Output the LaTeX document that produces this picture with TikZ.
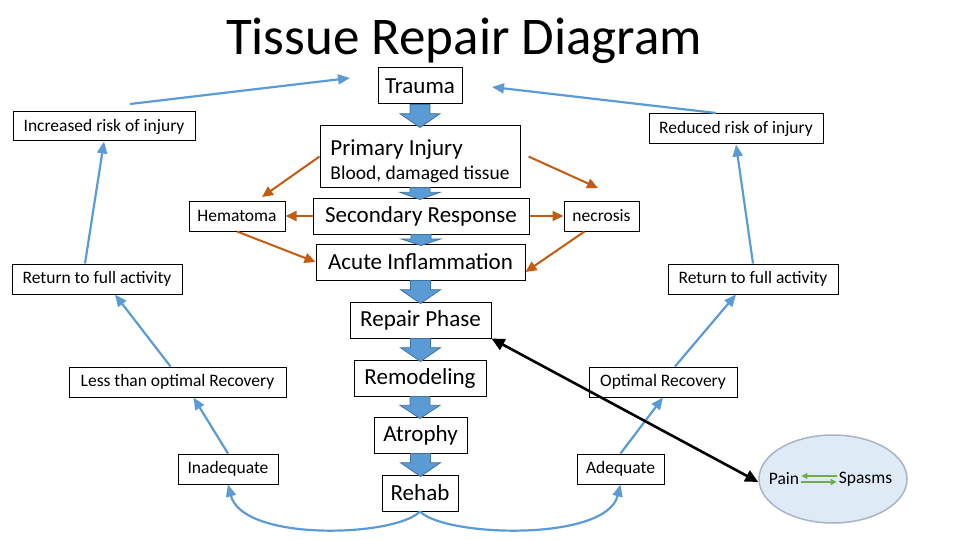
\documentclass[tikz,border=0pt]{standalone}
\usepackage{fontspec}
\setmainfont{Carlito}
\usepackage{tikz,xcolor}
\usetikzlibrary{arrows.meta,calc,shapes.geometric}

\definecolor{lineblue}{RGB}{91,155,213}
\definecolor{fatedge}{RGB}{65,113,156}
\definecolor{rust}{RGB}{197,90,17}
\definecolor{leafgreen}{RGB}{112,173,71}
\definecolor{ellfill}{RGB}{222,235,247}
\definecolor{ellgray}{RGB}{170,180,196}

\tikzset{
  mainbox/.style={draw, line width=1pt, fill=white, inner sep=0, minimum height=36, font=\fontsize{23}{26}\selectfont},
  sidebox/.style={draw, line width=1pt, fill=white, inner sep=0, minimum height=30, font=\fontsize{17.5}{20}\selectfont},
  bluearr/.style={draw=lineblue, line width=2.2pt, -{Triangle[length=12pt,width=10pt]}},
  rustarr/.style={draw=rust, line width=2pt, -{Triangle[length=11pt,width=10pt]}},
  blackarr/.style={draw=black, line width=2.6pt, {Triangle[length=13pt,width=12pt]}-{Triangle[length=13pt,width=12pt]}},
  greenarr/.style={draw=leafgreen, line width=2pt, -{Triangle[length=6pt,width=6pt]}},
  fatarrow/.style={fill=lineblue, draw=fatedge, line width=0.8pt}
}

% 粗箭头
\newcommand{\fatarr}[2]{%
  \draw[fatarrow] let \p1=(#1.south), \p2=(#2.north), \n1={min(14, 0.6*(\y1-\y2+2pt))} in
    (\x1-10pt,\y1) -- (\x1-10pt,\y2-2pt+\n1) -- (\x1-20pt,\y2-2pt+\n1) -- (\x1,\y2-2pt)
    -- (\x1+20pt,\y2-2pt+\n1) -- (\x1+10pt,\y2-2pt+\n1) -- (\x1+10pt,\y1) -- cycle;}

\begin{document}
\begin{tikzpicture}[x=1pt, y=-1pt]
\useasboundingbox (0,0) rectangle (960,540);

% 标题
\node[anchor=base] (title) at (464,55) {\fontsize{53}{60}\selectfont Tissue Repair Diagram};

% 中间节点
\node[mainbox, minimum width=84] (trauma) at (420,86) {Trauma};
\node[draw, line width=1pt, fill=white, inner sep=0, minimum width=200, minimum height=61, align=left] (primary) at (420,156.5)
  {{\fontsize{23}{26}\selectfont\rule{0pt}{25pt}Primary Injury}\\[6pt]{\fontsize{19.5}{22}\selectfont Blood, damaged tissue}};
\node[mainbox, minimum width=216] (secondary) at (421,216) {Secondary Response};
\node[mainbox, minimum width=209] (acute) at (420.5,262) {Acute Inflammation};
\node[mainbox, minimum width=141] (repair) at (420.5,320) {Repair Phase};
\node[mainbox, minimum width=132] (remod) at (420,378) {Remodeling};
\node[mainbox, minimum width=93] (atrophy) at (420.5,435) {Atrophy};
\node[mainbox, minimum width=76] (rehab) at (420,493) {Rehab};

% 两侧节点
\node[sidebox, minimum width=96] (hematoma) at (237,216) {Hematoma};
\node[sidebox, minimum width=75] (necrosis) at (601.5,216) {necrosis};
\node[sidebox, minimum width=182, minimum height=29] (increased) at (104,126.5) {Increased risk of injury};
\node[sidebox, minimum width=174] (reduced) at (736,129) {Reduced risk of injury};
\node[sidebox, minimum width=170] (retL) at (97,279) {Return to full activity};
\node[sidebox, minimum width=170] (retR) at (753,279) {Return to full activity};
\node[sidebox, minimum width=217] (less) at (177.5,382) {Less than optimal Recovery};
\node[sidebox, minimum width=148] (optimal) at (663,382) {Optimal Recovery};
\node[sidebox, minimum width=100] (inadequate) at (228,469) {Inadequate};
\node[sidebox, minimum width=87] (adequate) at (620.5,469) {Adequate};

% 椭圆
\node[ellipse, draw=ellgray, fill=ellfill, line width=1.5pt, minimum width=148, minimum height=88] (painbox) at (833,479) {};
\node[inner sep=2pt, font=\fontsize{17.5}{20}\selectfont] (pain) at (784,479) {Pain};
\node[inner sep=2pt, font=\fontsize{17.5}{20}\selectfont] (spasms) at (865.5,479) {Spasms};

\coordinate (incTop) at (130,104);
\coordinate (trL) at (350,78);
\coordinate (redTop) at (716,113);
\coordinate (trR) at (492,87);
\coordinate (hemTip) at (262,197);
\coordinate (necTip) at (598,188);

% 粗箭头
\fatarr{trauma}{primary}
\fatarr{primary}{secondary}
\fatarr{secondary}{acute}
\fatarr{acute}{repair}
\fatarr{repair}{remod}
\fatarr{remod}{atrophy}
\fatarr{atrophy}{rehab}

% 蓝色箭头
\draw[bluearr] (incTop) -- (trL);
\draw[bluearr] (redTop) -- (trR);
\draw[bluearr] ([xshift=-12pt]retL.north) -- (increased.south);
\draw[bluearr] (retR.north) -- (reduced.south);
\draw[bluearr] ([xshift=-7pt]less.north) -- ([xshift=18pt]retL.south);
\draw[bluearr] ([xshift=12pt]optimal.north) -- ([xshift=-17pt]retR.south);
\draw[bluearr] (inadequate.north) -- ([xshift=16pt]less.south);
\draw[bluearr] (adequate.north) -- (optimal.south);
\draw[bluearr] (rehab.south) .. controls (395,537) and (243,542) .. (inadequate.south);
\draw[bluearr] (rehab.south) .. controls (445,537) and (606,542) .. (adequate.south);

% 橙色箭头
\draw[rustarr] (primary.west) -- (hemTip);
\draw[rustarr] (secondary.west) -- (hematoma.east);
\draw[rustarr] (hematoma.south) -- (acute.west);
\draw[rustarr] ([xshift=8pt]primary.east) -- (necTip);
\draw[rustarr] (secondary.east) -- (necrosis.west);
\draw[rustarr] ([xshift=-17pt]necrosis.south) -- ([yshift=-10pt]acute.east);

% 黑色双向箭头
\draw[blackarr] (repair.south east) -- ([yshift=-3pt]painbox.west);

% 绿色箭头
\draw[greenarr] ([yshift=3pt]spasms.west) -- ([yshift=3pt]pain.east);
\draw[greenarr] ([yshift=-3pt]pain.east) -- ([yshift=-3pt]spasms.west);

\end{tikzpicture}
\end{document}
